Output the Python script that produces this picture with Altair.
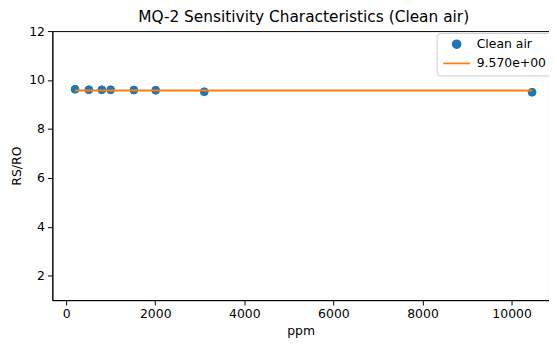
import altair as alt
import pandas as pd

ppm = [200, 510, 800, 1000, 1520, 2010, 3100, 10460]
rs_ro = [9.62, 9.60, 9.60, 9.60, 9.59, 9.58, 9.52, 9.50]
fit_value = 9.570
fit_label = "9.570e+00"
point_label = "Clean air"

pts = pd.DataFrame({"ppm": ppm, "rs": rs_ro, "series": [point_label] * len(ppm)})
fit = pd.DataFrame({"ppm": [min(ppm), max(ppm)], "rs": [fit_value, fit_value],
                    "series": [fit_label, fit_label]})

dom = [point_label, fit_label]
rng = ["#1f77b4", "#ff7f0e"]
FONT = "DejaVu Sans"
FS = 12.6

legend = alt.Legend(title=None, orient="none", legendX=390, legendY=2,
                    fillColor="white", strokeColor="#cccccc", cornerRadius=3,
                    padding=5, labelFontSize=FS, labelFont=FONT, labelColor="black",
                    symbolStrokeWidth=1.8, symbolSize=64, rowPadding=5.5, labelOffset=14,
                    symbolOffset=9)

x = alt.X("ppm:Q", title="ppm", scale=alt.Scale(domain=[-310, 10840], nice=False, zero=False),
          axis=alt.Axis(values=[0, 2000, 4000, 6000, 8000, 10000], grid=False, format="d"))
y = alt.Y("rs:Q", title="RS/RO", scale=alt.Scale(domain=[1, 12], nice=False, zero=False),
          axis=alt.Axis(values=[2, 4, 6, 8, 10, 12], grid=False, format="d"))

points = alt.Chart(pts).mark_point(filled=True, opacity=1, strokeWidth=1, size=64).encode(
    x=x, y=y,
    fill=alt.Fill("series:N", scale=alt.Scale(domain=dom, range=rng), legend=legend),
    stroke=alt.Stroke("series:N", scale=alt.Scale(domain=dom, range=rng), legend=legend),
    shape=alt.Shape("series:N", scale=alt.Scale(domain=dom, range=["circle", "M-3.4,0H3.4"]),
                    legend=legend),
)

line = alt.Chart(fit).mark_line(strokeWidth=2).encode(
    x=x, y=y,
    stroke=alt.Stroke("series:N", scale=alt.Scale(domain=dom, range=rng), legend=legend),
)

chart = alt.layer(points, line).properties(
    width=504, height=273,
    autosize=alt.AutoSizeParams(type="none"),
    padding={"left": 45, "top": 21, "right": 0, "bottom": 36},
    title=alt.Title("MQ-2 Sensitivity Characteristics (Clean air)", fontSize=15.6,
                    font=FONT, fontWeight="normal", color="black", offset=0, dx=3),
).configure_view(stroke="black", strokeWidth=1).configure_axis(
    labelFont=FONT, titleFont=FONT, labelFontSize=FS, titleFontSize=FS,
    labelColor="black", titleColor="black", titleFontWeight="normal",
    domainColor="black", tickColor="black", tickSize=5, labelPadding=3,
).configure_axisY(titlePadding=5).configure_axisX(titlePadding=4)

chart.save("out.html", embed_options={"renderer": "svg", "actions": False})
